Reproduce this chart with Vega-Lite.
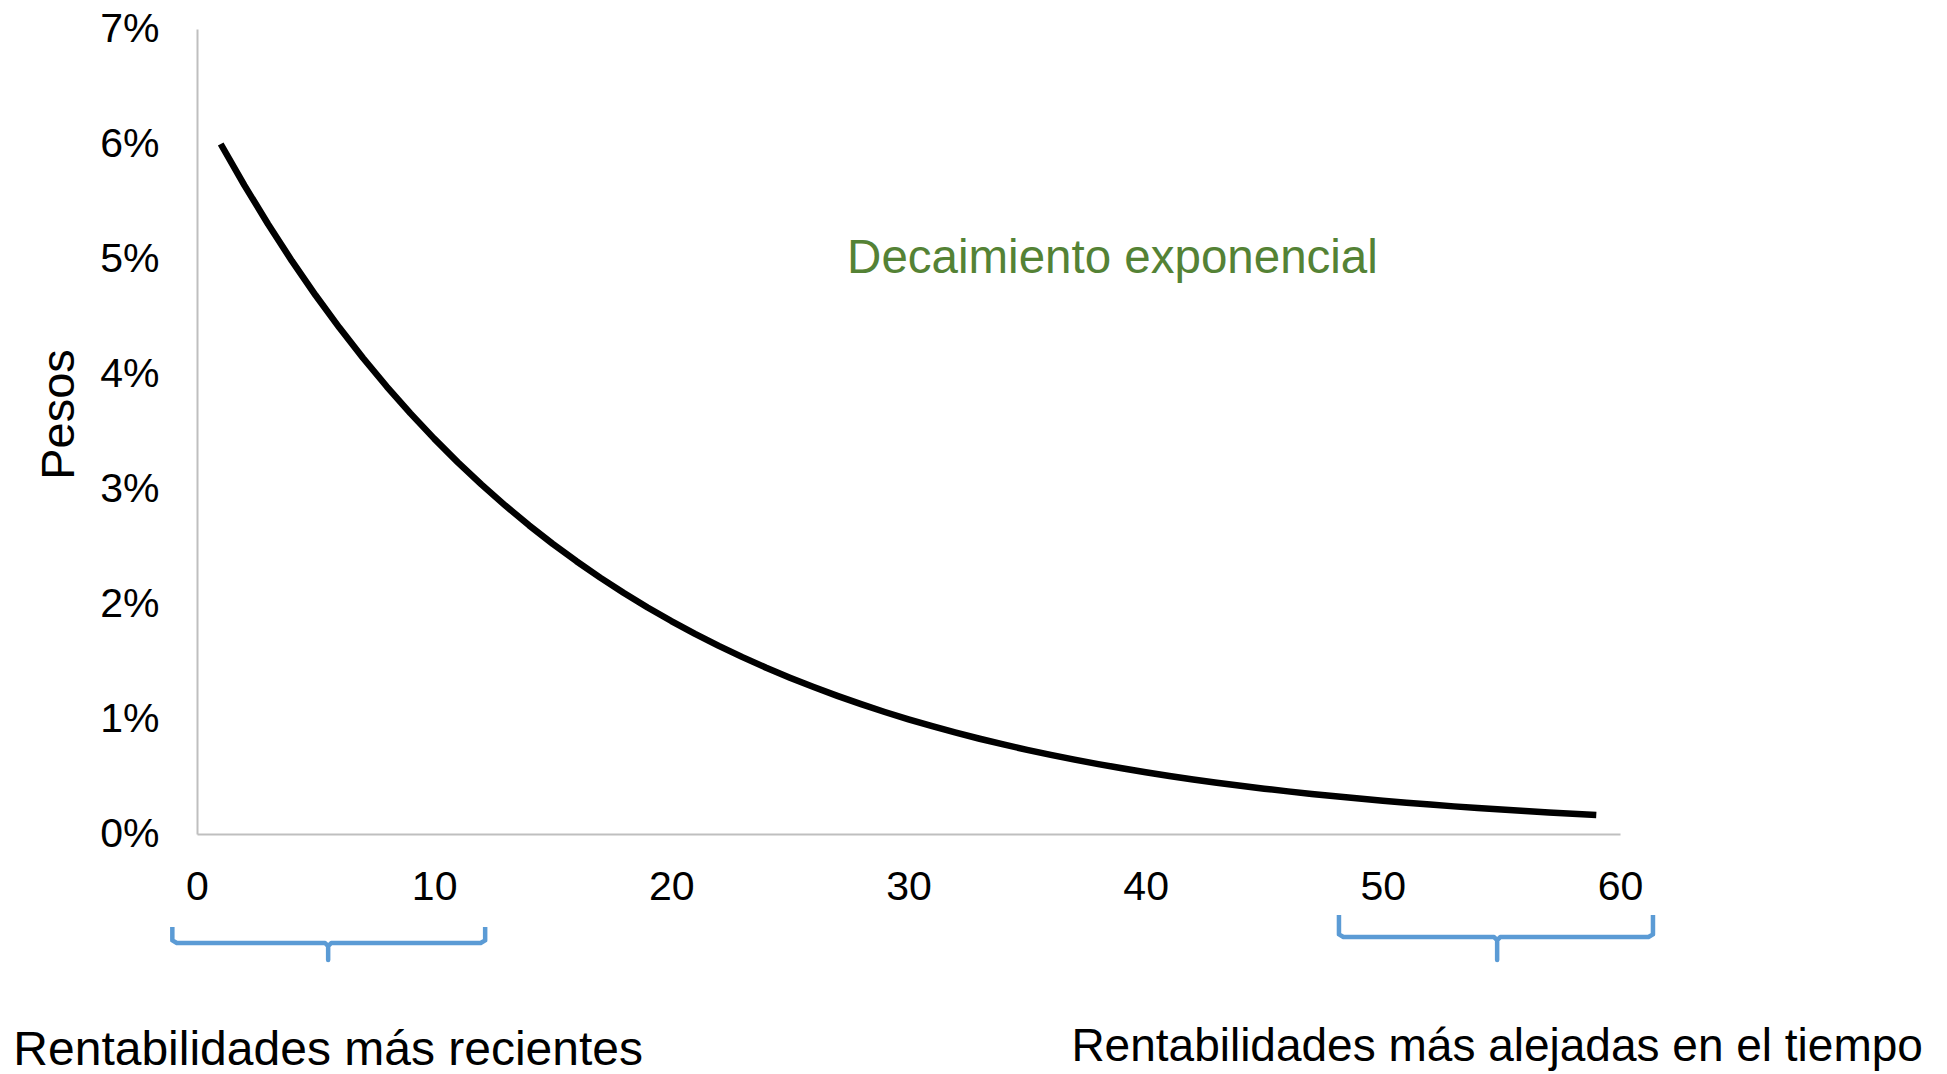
{
  "$schema": "https://vega.github.io/schema/vega-lite/v6.json",
  "width": 1423,
  "height": 805,
  "autosize": "none",
  "padding": {"left": 197, "top": 29, "right": 327, "bottom": 240},
  "background": "white",
  "config": {
    "view": {"stroke": null},
    "font": "Liberation Sans, Arial, sans-serif",
    "axis": {
      "domainColor": "#bfbfbf",
      "domainWidth": 2,
      "ticks": false,
      "tickSize": 0,
      "grid": false,
      "labelColor": "#000000",
      "labelFontSize": 41,
      "labelFlush": false,
      "labelOverlap": false,
      "titleColor": "#000000",
      "titleFontWeight": "normal"
    }
  },
  "datasets": {
    "pesos": [
      {"t": 1, "w": 0.06},
      {"t": 2, "w": 0.0564},
      {"t": 3, "w": 0.053016},
      {"t": 4, "w": 0.049835},
      {"t": 5, "w": 0.046845},
      {"t": 6, "w": 0.044034},
      {"t": 7, "w": 0.041392},
      {"t": 8, "w": 0.038909},
      {"t": 9, "w": 0.036574},
      {"t": 10, "w": 0.03438},
      {"t": 11, "w": 0.032317},
      {"t": 12, "w": 0.030378},
      {"t": 13, "w": 0.028555},
      {"t": 14, "w": 0.026842},
      {"t": 15, "w": 0.025231},
      {"t": 16, "w": 0.023718},
      {"t": 17, "w": 0.022294},
      {"t": 18, "w": 0.020957},
      {"t": 19, "w": 0.019699},
      {"t": 20, "w": 0.018517},
      {"t": 21, "w": 0.017406},
      {"t": 22, "w": 0.016362},
      {"t": 23, "w": 0.01538},
      {"t": 24, "w": 0.014457},
      {"t": 25, "w": 0.01359},
      {"t": 26, "w": 0.012775},
      {"t": 27, "w": 0.012008},
      {"t": 28, "w": 0.011288},
      {"t": 29, "w": 0.01061},
      {"t": 30, "w": 0.009974},
      {"t": 31, "w": 0.009375},
      {"t": 32, "w": 0.008813},
      {"t": 33, "w": 0.008284},
      {"t": 34, "w": 0.007787},
      {"t": 35, "w": 0.00732},
      {"t": 36, "w": 0.006881},
      {"t": 37, "w": 0.006468},
      {"t": 38, "w": 0.00608},
      {"t": 39, "w": 0.005715},
      {"t": 40, "w": 0.005372},
      {"t": 41, "w": 0.00505},
      {"t": 42, "w": 0.004747},
      {"t": 43, "w": 0.004462},
      {"t": 44, "w": 0.004194},
      {"t": 45, "w": 0.003942},
      {"t": 46, "w": 0.003706},
      {"t": 47, "w": 0.003484},
      {"t": 48, "w": 0.003275},
      {"t": 49, "w": 0.003078},
      {"t": 50, "w": 0.002893},
      {"t": 51, "w": 0.00272},
      {"t": 52, "w": 0.002557},
      {"t": 53, "w": 0.002403},
      {"t": 54, "w": 0.002259},
      {"t": 55, "w": 0.002124},
      {"t": 56, "w": 0.001996},
      {"t": 57, "w": 0.001876},
      {"t": 58, "w": 0.001764},
      {"t": 59, "w": 0.001658}
    ],
    "llaves": [
      {"grupo": "recientes", "orden": 1, "x": -1.04, "y": -0.00809},
      {"grupo": "recientes", "orden": 2, "x": -1.04, "y": -0.00925},
      {"grupo": "recientes", "orden": 3, "x": -0.85, "y": -0.00948},
      {"grupo": "recientes", "orden": 4, "x": 5.4, "y": -0.00948},
      {"grupo": "recientes", "orden": 5, "x": 5.53, "y": -0.00975},
      {"grupo": "recientes", "orden": 6, "x": 5.53, "y": -0.01096},
      {"grupo": "recientes", "orden": 7, "x": 5.53, "y": -0.00975},
      {"grupo": "recientes", "orden": 8, "x": 5.66, "y": -0.00948},
      {"grupo": "recientes", "orden": 9, "x": 11.96, "y": -0.00948},
      {"grupo": "recientes", "orden": 10, "x": 12.15, "y": -0.00925},
      {"grupo": "recientes", "orden": 11, "x": 12.15, "y": -0.00809},
      {"grupo": "alejadas", "orden": 1, "x": 48.15, "y": -0.00705},
      {"grupo": "alejadas", "orden": 2, "x": 48.15, "y": -0.00873},
      {"grupo": "alejadas", "orden": 3, "x": 48.34, "y": -0.00896},
      {"grupo": "alejadas", "orden": 4, "x": 54.69, "y": -0.00896},
      {"grupo": "alejadas", "orden": 5, "x": 54.82, "y": -0.00923},
      {"grupo": "alejadas", "orden": 6, "x": 54.82, "y": -0.01096},
      {"grupo": "alejadas", "orden": 7, "x": 54.82, "y": -0.00923},
      {"grupo": "alejadas", "orden": 8, "x": 54.95, "y": -0.00896},
      {"grupo": "alejadas", "orden": 9, "x": 61.2, "y": -0.00896},
      {"grupo": "alejadas", "orden": 10, "x": 61.39, "y": -0.00873},
      {"grupo": "alejadas", "orden": 11, "x": 61.39, "y": -0.00705}
    ]
  },
  "layer": [
    {
      "data": {"name": "pesos"},
      "mark": {"type": "line", "color": "#000000", "strokeWidth": 6.5, "strokeCap": "butt", "strokeJoin": "round"},
      "encoding": {
        "x": {
          "field": "t",
          "type": "quantitative",
          "scale": {"domain": [0, 60], "nice": false, "zero": false},
          "axis": {
            "title": null,
            "values": [0, 10, 20, 30, 40, 50, 60],
            "format": "d",
            "labelPadding": 33,
            "labelBaseline": "top"
          }
        },
        "y": {
          "field": "w",
          "type": "quantitative",
          "scale": {"domain": [0, 0.07], "nice": false},
          "axis": {
            "title": "Pesos",
            "values": [0, 0.01, 0.02, 0.03, 0.04, 0.05, 0.06, 0.07],
            "format": ".0%",
            "labelPadding": 38,
            "titleFontSize": 47,
            "titleAngle": 270,
            "titleX": -124,
            "titleY": 385,
            "titleAlign": "center",
            "titleBaseline": "alphabetic"
          }
        }
      }
    },
    {
      "data": {"name": "llaves"},
      "mark": {"type": "line", "color": "#5b9bd5", "strokeWidth": 4.5, "strokeJoin": "round", "strokeCap": "butt"},
      "encoding": {
        "x": {"field": "x", "type": "quantitative", "scale": {"domain": [0, 60], "nice": false, "zero": false}},
        "y": {"field": "y", "type": "quantitative", "scale": {"domain": [0, 0.07], "nice": false}},
        "detail": {"field": "grupo"},
        "order": {"field": "orden"}
      }
    },
    {
      "data": {"values": [{}]},
      "mark": {"type": "text", "text": "Decaimiento exponencial", "fontSize": 47.5, "color": "#548235", "align": "center", "baseline": "alphabetic"},
      "encoding": {
        "x": {"datum": 38.6, "type": "quantitative", "scale": {"domain": [0, 60], "nice": false, "zero": false}},
        "y": {"datum": 0.0488, "type": "quantitative", "scale": {"domain": [0, 0.07], "nice": false}}
      }
    },
    {
      "data": {"values": [{}]},
      "mark": {"type": "text", "text": "Rentabilidades más recientes", "fontSize": 48, "color": "#000000", "align": "center", "baseline": "alphabetic"},
      "encoding": {
        "x": {"datum": 5.53, "type": "quantitative", "scale": {"domain": [0, 60], "nice": false, "zero": false}},
        "y": {"datum": -0.0201, "type": "quantitative", "scale": {"domain": [0, 0.07], "nice": false}}
      }
    },
    {
      "data": {"values": [{}]},
      "mark": {"type": "text", "text": "Rentabilidades más alejadas en el tiempo", "fontSize": 46, "color": "#000000", "align": "center", "baseline": "alphabetic"},
      "encoding": {
        "x": {"datum": 54.82, "type": "quantitative", "scale": {"domain": [0, 60], "nice": false, "zero": false}},
        "y": {"datum": -0.0197, "type": "quantitative", "scale": {"domain": [0, 0.07], "nice": false}}
      }
    }
  ]
}
